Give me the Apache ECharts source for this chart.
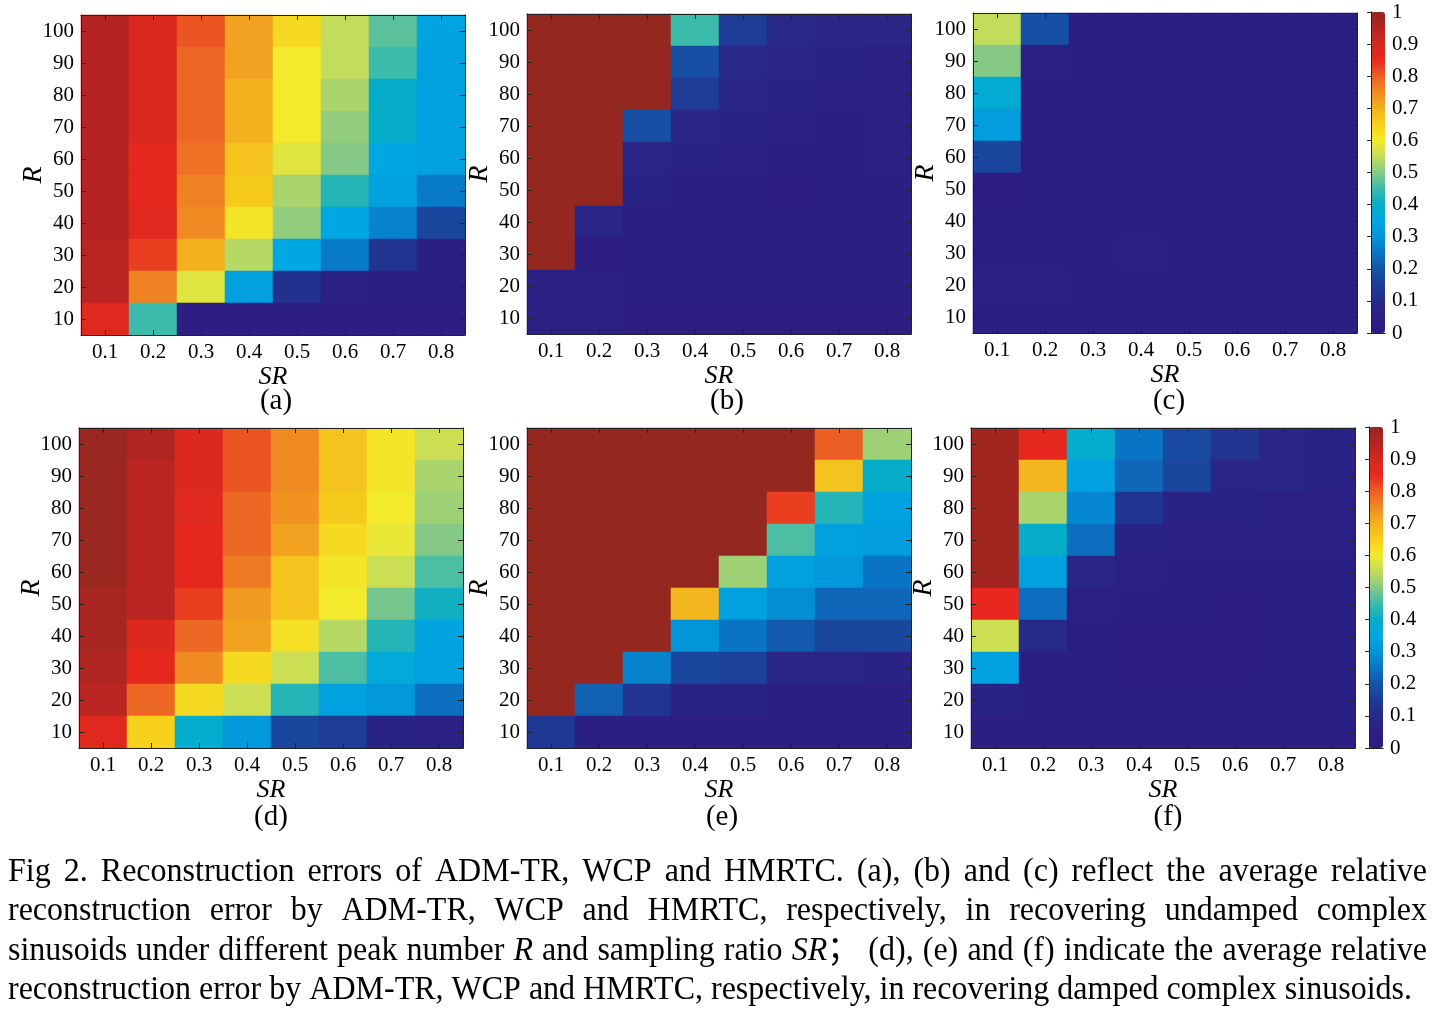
<!DOCTYPE html>
<html>
<head>
<meta charset="utf-8">
<script src="https://cdn.jsdelivr.net/npm/echarts@6/dist/echarts.min.js"></script>
<style>
html,body{margin:0;padding:0;background:#fff;}
#main{width:1447px;height:1015px;}
</style>
</head>
<body>
<div id="main"></div>
<script>
// ---------------- DATA ----------------
const srLabels = ['0.1','0.2','0.3','0.4','0.5','0.6','0.7','0.8'];
const rLabels = ['10','20','30','40','50','60','70','80','90','100']; // bottom -> top
const panelLetters = ['(a)','(b)','(c)','(d)','(e)','(f)'];

// each matrix: rows listed from R=100 (top) down to R=10 (bottom); columns SR 0.1 .. 0.8
const errAdmtrUndamped = [
  [0.95,0.88,0.81,0.72,0.63,0.55,0.47,0.34],
  [0.95,0.88,0.79,0.72,0.60,0.55,0.45,0.33],
  [0.95,0.88,0.79,0.70,0.60,0.53,0.40,0.33],
  [0.95,0.88,0.79,0.70,0.60,0.51,0.40,0.33],
  [0.95,0.86,0.78,0.67,0.58,0.50,0.35,0.33],
  [0.95,0.86,0.76,0.66,0.53,0.43,0.33,0.26],
  [0.95,0.87,0.75,0.61,0.51,0.35,0.27,0.17],
  [0.94,0.83,0.70,0.54,0.35,0.26,0.13,0.05],
  [0.94,0.76,0.58,0.33,0.12,0.06,0.05,0.05],
  [0.87,0.45,0.04,0.04,0.04,0.04,0.04,0.04]
];
const errWcpUndamped = [
  [1.00,1.00,1.00,0.45,0.15,0.09,0.08,0.08],
  [1.00,1.00,1.00,0.19,0.09,0.08,0.07,0.06],
  [1.00,1.00,1.00,0.15,0.08,0.07,0.06,0.06],
  [1.00,1.00,0.19,0.08,0.07,0.06,0.05,0.06],
  [1.00,1.00,0.08,0.07,0.06,0.05,0.05,0.06],
  [1.00,1.00,0.07,0.05,0.05,0.04,0.05,0.05],
  [1.00,0.08,0.05,0.05,0.05,0.05,0.05,0.05],
  [1.00,0.04,0.05,0.05,0.05,0.05,0.05,0.05],
  [0.06,0.06,0.05,0.05,0.05,0.05,0.05,0.05],
  [0.06,0.06,0.04,0.04,0.04,0.04,0.04,0.04]
];
const errHmrtcUndamped = [
  [0.55,0.19,0.05,0.05,0.05,0.05,0.05,0.05],
  [0.50,0.06,0.05,0.05,0.05,0.05,0.05,0.05],
  [0.38,0.05,0.05,0.05,0.05,0.05,0.05,0.05],
  [0.32,0.05,0.05,0.05,0.05,0.05,0.05,0.05],
  [0.17,0.05,0.05,0.05,0.05,0.05,0.05,0.05],
  [0.03,0.05,0.05,0.05,0.05,0.05,0.05,0.05],
  [0.05,0.05,0.05,0.05,0.05,0.05,0.05,0.05],
  [0.05,0.05,0.05,0.06,0.05,0.05,0.05,0.05],
  [0.06,0.06,0.05,0.05,0.05,0.05,0.05,0.05],
  [0.05,0.05,0.05,0.05,0.05,0.05,0.05,0.05]
];
const errAdmtrDamped = [
  [0.99,0.96,0.88,0.81,0.75,0.67,0.61,0.56],
  [0.99,0.94,0.88,0.81,0.75,0.67,0.61,0.53],
  [0.99,0.94,0.87,0.79,0.74,0.66,0.60,0.52],
  [0.99,0.94,0.86,0.79,0.72,0.63,0.59,0.50],
  [0.99,0.94,0.86,0.77,0.67,0.61,0.56,0.46],
  [0.97,0.94,0.83,0.73,0.67,0.60,0.49,0.41],
  [0.97,0.88,0.79,0.72,0.62,0.54,0.43,0.34],
  [0.96,0.86,0.75,0.63,0.56,0.46,0.37,0.33],
  [0.94,0.79,0.63,0.56,0.43,0.33,0.31,0.24],
  [0.87,0.65,0.39,0.31,0.17,0.15,0.07,0.06]
];
const errWcpDamped = [
  [1.00,1.00,1.00,1.00,1.00,1.00,0.80,0.52],
  [1.00,1.00,1.00,1.00,1.00,1.00,0.67,0.40],
  [1.00,1.00,1.00,1.00,1.00,0.83,0.43,0.33],
  [1.00,1.00,1.00,1.00,1.00,0.46,0.33,0.32],
  [1.00,1.00,1.00,1.00,0.52,0.33,0.31,0.25],
  [1.00,1.00,1.00,0.69,0.33,0.29,0.23,0.23],
  [1.00,1.00,1.00,0.30,0.25,0.21,0.17,0.17],
  [1.00,1.00,0.27,0.17,0.16,0.08,0.08,0.07],
  [1.00,0.22,0.13,0.07,0.07,0.05,0.05,0.05],
  [0.14,0.05,0.05,0.05,0.05,0.05,0.05,0.05]
];
const errHmrtcDamped = [
  [0.98,0.86,0.39,0.25,0.18,0.13,0.08,0.07],
  [0.98,0.69,0.33,0.23,0.17,0.08,0.08,0.07],
  [0.98,0.53,0.28,0.13,0.07,0.07,0.06,0.06],
  [0.98,0.40,0.24,0.07,0.06,0.06,0.06,0.06],
  [0.98,0.33,0.08,0.06,0.05,0.05,0.05,0.05],
  [0.85,0.24,0.06,0.05,0.05,0.04,0.05,0.05],
  [0.56,0.10,0.05,0.04,0.04,0.04,0.05,0.05],
  [0.33,0.05,0.05,0.04,0.04,0.04,0.05,0.05],
  [0.07,0.05,0.05,0.05,0.05,0.05,0.05,0.05],
  [0.05,0.05,0.05,0.05,0.05,0.05,0.05,0.05]
];

const captionLines = [
  'Fig 2. Reconstruction errors of ADM-TR, WCP and HMRTC. (a), (b) and (c) reflect the average relative',
  'reconstruction error by ADM-TR, WCP and HMRTC, respectively, in recovering undamped complex',
  'sinusoids under different peak number *R* and sampling ratio *SR*\uFF1B (d), (e) and (f) indicate the average relative',
  'reconstruction error by ADM-TR, WCP and HMRTC, respectively, in recovering damped complex sinusoids.'
];
const captionJustify = [true, true, true, false];

// ---------------- LAYOUT / STYLE ----------------
const matrices = [errAdmtrUndamped, errWcpUndamped, errHmrtcUndamped, errAdmtrDamped, errWcpDamped, errHmrtcDamped];
const panelBoxes = [
  {left:81,  top:15,  width:384, height:320},
  {left:527, top:14,  width:384, height:320},
  {left:973, top:13,  width:384, height:320},
  {left:79,  top:428, width:384, height:320},
  {left:527, top:428, width:384, height:320},
  {left:971, top:428, width:384, height:320}
];
const letterPos = [[276,401],[727,401],[1169,401],[271,817],[722,817],[1168,817]];
const cbBars = [
  {left:1371, top:12,  w:14, h:321},
  {left:1369, top:427, w:14, h:321}
];
const jet = ['#2e1a80','#2c1f84','#272a88','#1d3c96','#1554a8','#0a74c4','#0296d9','#01a7e2',
             '#05adc8','#3cbbaa','#86c987','#c2dc5c','#f4ea2c','#f7d01c','#f3b01f','#f08b23',
             '#ec5f24','#e8281e','#d2291f','#b42422','#94281f'];
const SERIF = '"Liberation Serif", "Times New Roman", serif';
const AX = '#222';

const grid = [], xAxis = [], yAxis = [], series = [];
panelBoxes.forEach((b, i) => {
  grid.push(Object.assign({containLabel:false}, b));
  const common = {
    gridIndex: i, type: 'category',
    axisLine: {show: true, lineStyle: {color: AX, width: 1}},
    axisTick: {show: true, inside: true, alignWithLabel: true, length: 5, lineStyle: {color: AX}},
    splitLine: {show: false}, z: 5
  };
  const nameGapX = i < 3 ? 26 : 28;
  xAxis.push(Object.assign({}, common, {
    data: srLabels, position: 'bottom',
    axisLabel: {color: '#000', fontFamily: SERIF, fontSize: 21, margin: 7},
    name: 'SR', nameLocation: 'middle', nameGap: nameGapX,
    nameTextStyle: {color: '#000', fontFamily: SERIF, fontSize: 26, fontStyle: 'italic'}
  }));
  xAxis.push(Object.assign({}, common, {data: srLabels, position: 'top', axisLabel: {show: false}}));
  yAxis.push(Object.assign({}, common, {
    data: rLabels, position: 'left',
    axisLabel: {color: '#000', fontFamily: SERIF, fontSize: 21, margin: 7},
    name: 'R', nameLocation: 'middle', nameGap: 33, nameRotate: 90, nameMoveOverlap: false,
    nameTextStyle: {color: '#000', fontFamily: SERIF, fontSize: 28, fontStyle: 'italic'}
  }));
  yAxis.push(Object.assign({}, common, {data: rLabels, position: 'right', axisLabel: {show: false}}));

  const m = matrices[i];
  const data = [];
  m.forEach((row, ri) => {
    row.forEach((v, ci) => data.push([ci, rLabels.length - 1 - ri, v]));
  });
  series.push({
    type: 'heatmap', xAxisIndex: 2 * i, yAxisIndex: 2 * i, data: data,
    itemStyle: {borderWidth: 0},
    emphasis: {disabled: true}, silent: true, progressive: 0
  });
});

// colorbar axes (frame + ticks + labels drawn over the visualMap bar)
const visualMap = [];
cbBars.forEach((c, k) => {
  const gi = grid.length;
  grid.push({left: c.left, top: c.top, width: c.w, height: c.h});
  const frame = {axisLine: {show: true, lineStyle: {color: AX, width: 1}}, splitLine: {show: false}, z: 10};
  xAxis.push(Object.assign({gridIndex: gi, type: 'value', min: 0, max: 1, position: 'bottom',
    axisTick: {show: false}, axisLabel: {show: false}}, frame));
  xAxis.push(Object.assign({gridIndex: gi, type: 'value', min: 0, max: 1, position: 'top',
    axisTick: {show: false}, axisLabel: {show: false}}, frame));
  yAxis.push(Object.assign({gridIndex: gi, type: 'value', min: 0, max: 1, interval: 0.1, position: 'left',
    axisTick: {show: false}, axisLabel: {show: false}}, frame));
  yAxis.push(Object.assign({
    gridIndex: gi, type: 'value', min: 0, max: 1, interval: 0.1, position: 'right',
    axisTick: {show: true, inside: true, length: 4, lineStyle: {color: AX}},
    axisLabel: {color: '#000', fontFamily: SERIF, fontSize: 21, margin: 7,
                formatter: v => String(Math.round(v * 10) / 10)}
  }, frame));
  visualMap.push({
    type: 'continuous', min: 0, max: 1, calculable: false, show: true,
    orient: 'vertical', left: c.left, top: c.top, itemWidth: c.w, itemHeight: c.h,
    padding: 0, text: null, showLabel: false, hoverLink: false,
    seriesIndex: k === 0 ? [0, 1, 2] : [3, 4, 5],
    inRange: {color: jet}, z: 1
  });
});

// panel letters
const graphic = [];
panelLetters.forEach((t, i) => {
  graphic.push({type: 'text', x: letterPos[i][0], y: letterPos[i][1], silent: true,
    style: {text: t, font: '29px ' + SERIF, fill: '#000', align: 'center', verticalAlign: 'middle'}});
});

// caption (justified)
const CAP_SIZE = 34;
const capLeft = 8, capRight = 1427, lastLineRight = 1412;
const capY = [872, 911, 951, 990];
const ctx = document.createElement('canvas').getContext('2d');
function capFont(it) { return (it ? 'italic ' : '') + CAP_SIZE + 'px "Liberation Serif", "Noto Sans CJK SC", serif'; }
function measure(t, it) { ctx.font = capFont(it); return ctx.measureText(t).width; }
function parseWord(w) {
  const parts = w.split('*');
  const segs = [];
  parts.forEach((p, idx) => { if (p.length) segs.push({t: p, it: idx % 2 === 1}); });
  segs.forEach(s => s.w = measure(s.t, s.it));
  return {segs, w: segs.reduce((a, s) => a + s.w, 0)};
}
const parsed = captionLines.map(l => l.split(/\s+/).filter(Boolean).map(parseWord));
const spaceW = measure(' ', false);
const last = parsed[parsed.length - 1];
const lastNatural = last.reduce((a, w) => a + w.w, 0) + spaceW * (last.length - 1);
const sx = (lastLineRight - capLeft) / lastNatural;
parsed.forEach((words, li) => {
  const sum = words.reduce((a, w) => a + w.w, 0) * sx;
  let gap = spaceW * sx;
  if (captionJustify[li] && words.length > 1) gap = (capRight - capLeft - sum) / (words.length - 1);
  let x = capLeft;
  words.forEach(w => {
    let sxOff = x;
    w.segs.forEach(s => {
      graphic.push({type: 'text', x: sxOff, y: capY[li], scaleX: sx, silent: true,
        style: {text: s.t, font: capFont(s.it), fill: '#000', align: 'left', verticalAlign: 'middle'}});
      sxOff += s.w * sx;
    });
    x += w.w * sx + gap;
  });
});

const chart = echarts.init(document.getElementById('main'), null, {renderer: 'canvas'});
chart.setOption({
  animation: false,
  backgroundColor: '#fff',
  grid, xAxis, yAxis, visualMap, series, graphic
});
</script>
</body>
</html>
